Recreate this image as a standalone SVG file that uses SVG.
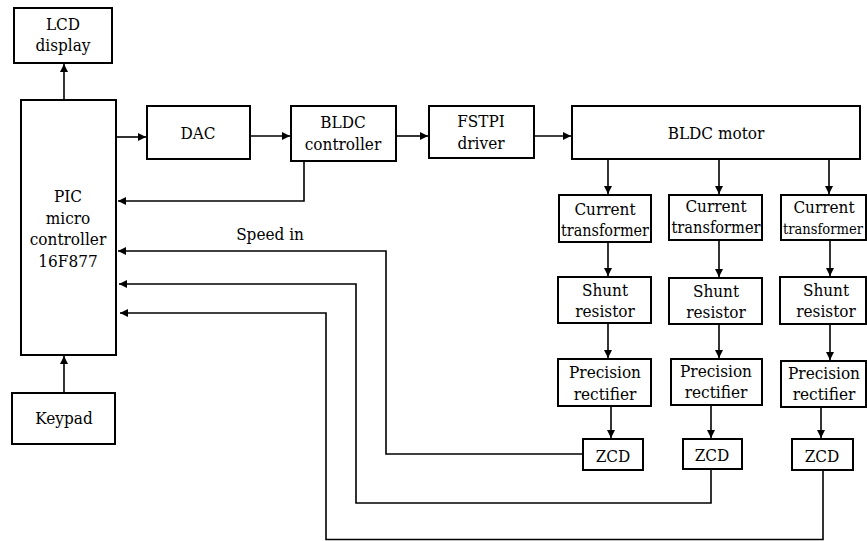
<svg xmlns="http://www.w3.org/2000/svg" width="867" height="541" viewBox="0 0 867 541">
<style>
.box{fill:#fff;stroke:#000;stroke-width:2}
.t{font-family:"DejaVu Serif Condensed","DejaVu Serif",serif;font-stretch:condensed;font-size:17px;fill:#000;text-anchor:middle}
.c{fill:none;stroke:#000;stroke-width:1.6}
</style>
<defs>
<marker id="ah" markerUnits="userSpaceOnUse" markerWidth="9" markerHeight="8" refX="8" refY="4" orient="auto">
<path d="M0,0 L8,4 L0,8 Z" fill="#000"/>
</marker>
</defs>
<rect width="867" height="541" fill="#fff"/>
<g id="connectors">
<path class="c" d="M64,99 V64" marker-end="url(#ah)"/>
<path class="c" d="M64,393 V356" marker-end="url(#ah)"/>
<path class="c" d="M117,137 H146" marker-end="url(#ah)"/>
<path class="c" d="M250,136 H290" marker-end="url(#ah)"/>
<path class="c" d="M396,136 H428" marker-end="url(#ah)"/>
<path class="c" d="M534,136 H571" marker-end="url(#ah)"/>
<path class="c" d="M304,161 V201 H118" marker-end="url(#ah)"/>
<path class="c" d="M608,159 V194" marker-end="url(#ah)"/>
<path class="c" d="M719,159 V194" marker-end="url(#ah)"/>
<path class="c" d="M829,159 V194" marker-end="url(#ah)"/>
<path class="c" d="M608,242 V276" marker-end="url(#ah)"/>
<path class="c" d="M719,240 V277" marker-end="url(#ah)"/>
<path class="c" d="M830,240 V276" marker-end="url(#ah)"/>
<path class="c" d="M608,323 V358" marker-end="url(#ah)"/>
<path class="c" d="M719,324 V358" marker-end="url(#ah)"/>
<path class="c" d="M830,324 V360" marker-end="url(#ah)"/>
<path class="c" d="M611,406 V438" marker-end="url(#ah)"/>
<path class="c" d="M711,405 V438" marker-end="url(#ah)"/>
<path class="c" d="M821,407 V438" marker-end="url(#ah)"/>
<path class="c" d="M583,454 H386 V251 H118" marker-end="url(#ah)"/>
<path class="c" d="M711,469 V503 H356 V284 H119" marker-end="url(#ah)"/>
<path class="c" d="M823,470 V539.5 H326 V313 H120" marker-end="url(#ah)"/>
</g>
<text class="t" x="270" y="240">Speed in</text>
<g id="lcd"><rect class="box" x="14" y="8" width="98" height="55"/><text class="t" x="63" y="30">LCD</text><text class="t" x="63" y="51">display</text></g>
<g id="pic"><rect class="box" x="21" y="100" width="95" height="255"/><text class="t" x="68" y="202">PIC</text><text class="t" x="68" y="224">micro</text><text class="t" x="68" y="245">controller</text><text class="t" x="68" y="267">16F877</text></g>
<g id="keypad"><rect class="box" x="12" y="393" width="103" height="51"/><text class="t" x="64" y="424">Keypad</text></g>
<g id="dac"><rect class="box" x="147" y="106" width="103" height="53"/><text class="t" x="198" y="139">DAC</text></g>
<g id="bldc-controller"><rect class="box" x="291" y="106" width="105" height="55"/><text class="t" x="343" y="128">BLDC</text><text class="t" x="343" y="150">controller</text></g>
<g id="fstpi"><rect class="box" x="429" y="106" width="105" height="52"/><text class="t" x="481" y="127">FSTPI</text><text class="t" x="481" y="149">driver</text></g>
<g id="motor"><rect class="box" x="572" y="106" width="288" height="53"/><text class="t" x="716" y="139">BLDC motor</text></g>
<g id="ct1"><rect class="box" x="559" y="195" width="92" height="47"/><text class="t" x="605" y="215">Current</text><text class="t" x="605" y="236" textLength="88" lengthAdjust="spacingAndGlyphs">transformer</text></g>
<g id="ct2"><rect class="box" x="669" y="195" width="93" height="45"/><text class="t" x="716" y="212">Current</text><text class="t" x="716" y="233" textLength="89" lengthAdjust="spacingAndGlyphs">transformer</text></g>
<g id="ct3"><rect class="box" x="781" y="195" width="85" height="45"/><text class="t" x="824" y="213">Current</text><text class="t" x="823" y="234" style="font-size:14.5px" textLength="80" lengthAdjust="spacingAndGlyphs">transformer</text></g>
<g id="shunt1"><rect class="box" x="558" y="277" width="93" height="46"/><text class="t" x="605" y="296">Shunt</text><text class="t" x="605" y="317">resistor</text></g>
<g id="shunt2"><rect class="box" x="669" y="278" width="93" height="46"/><text class="t" x="716" y="297">Shunt</text><text class="t" x="716" y="318">resistor</text></g>
<g id="shunt3"><rect class="box" x="780" y="277" width="86" height="47"/><text class="t" x="826" y="296">Shunt</text><text class="t" x="826" y="317">resistor</text></g>
<g id="prec1"><rect class="box" x="558" y="359" width="93" height="47"/><text class="t" x="605" y="378">Precision</text><text class="t" x="605" y="400">rectifier</text></g>
<g id="prec2"><rect class="box" x="671" y="359" width="91" height="46"/><text class="t" x="716" y="377">Precision</text><text class="t" x="716" y="398">rectifier</text></g>
<g id="prec3"><rect class="box" x="781" y="361" width="85" height="46"/><text class="t" x="824" y="379">Precision</text><text class="t" x="824" y="400">rectifier</text></g>
<g id="zcd1"><rect class="box" x="583" y="439" width="60" height="31"/><text class="t" x="613" y="462">ZCD</text></g>
<g id="zcd2"><rect class="box" x="683" y="439" width="59" height="30"/><text class="t" x="712" y="461">ZCD</text></g>
<g id="zcd3"><rect class="box" x="792" y="439" width="61" height="31"/><text class="t" x="822" y="462">ZCD</text></g>
</svg>
